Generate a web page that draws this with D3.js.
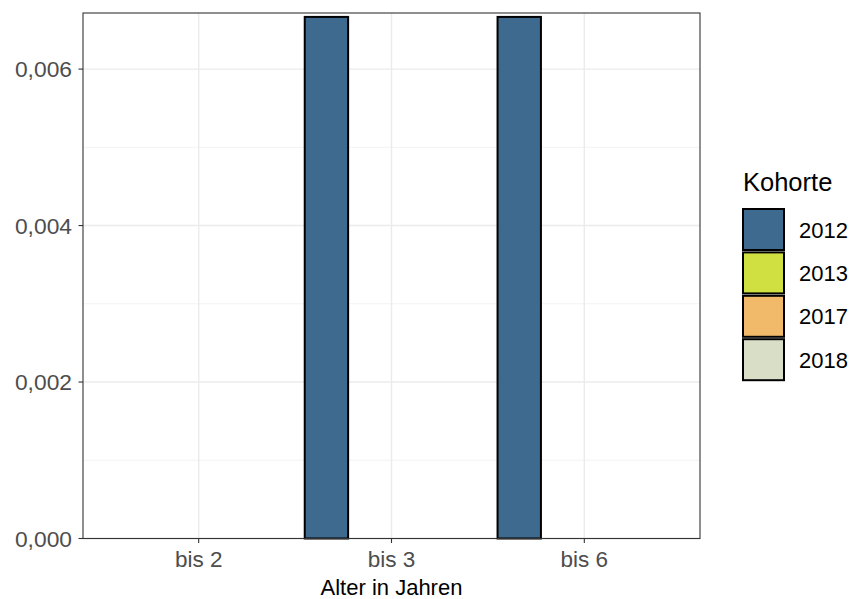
<!DOCTYPE html>
<html><head><meta charset="utf-8">
<script src="https://cdn.jsdelivr.net/npm/d3@7"></script>
<style>body{margin:0;background:#fff}svg{display:block}text{font-family:"Liberation Sans",Arial,Helvetica,sans-serif}</style>
</head><body>
<svg id="c" width="853" height="599"></svg>
<script>
const categories = ["bis 2", "bis 3", "bis 6"];
const cohorts = ["2012", "2013", "2017", "2018"];
const colors = ["#3f6a8f", "#d0e040", "#f1ba6b", "#d9dfc7"];
const values = {
  "2012": [0, 0.006667, 0.006667],
  "2013": [0, 0, 0],
  "2017": [0, 0, 0],
  "2018": [0, 0, 0]
};
const yTicks = [0, 0.002, 0.004, 0.006];
const yMinor = [0.001, 0.003, 0.005];

const svg = d3.select("#c");
const L = 83, R = 700, T = 13, B = 538.5;
const n = categories.length;
const x = d3.scaleLinear().domain([0.4, n + 0.6]).range([L, R]);
const yMax = d3.max(cohorts.flatMap(c => values[c]));
const y = d3.scaleLinear().domain([0, yMax * 1.0075]).range([B, T]);
const fmt = v => d3.format(".3f")(v).replace(".", ",");

// grid
const g = svg.append("g");
g.selectAll(".ymin").data(yMinor).join("line")
  .attr("x1", L).attr("x2", R).attr("y1", d => y(d)).attr("y2", d => y(d))
  .attr("stroke", "#f3f3f3").attr("stroke-width", 1);
g.selectAll(".ymaj").data(yTicks).join("line")
  .attr("x1", L).attr("x2", R).attr("y1", d => y(d)).attr("y2", d => y(d))
  .attr("stroke", "#ebebeb").attr("stroke-width", 1.4);
g.selectAll(".xmaj").data(categories).join("line")
  .attr("x1", (d, i) => x(i + 1)).attr("x2", (d, i) => x(i + 1)).attr("y1", T).attr("y2", B)
  .attr("stroke", "#ebebeb").attr("stroke-width", 1.4);

// bars
const unit = x(1) - x(0);
const bw = 0.9 / cohorts.length;
cohorts.forEach((c, j) => {
  svg.append("g").selectAll("rect").data(values[c]).join("rect")
    .attr("x", (d, i) => x(i + 1 - 0.45 + j * bw))
    .attr("width", bw * unit)
    .attr("y", d => y(d))
    .attr("height", d => y(0) - y(d))
    .attr("fill", colors[j])
    .attr("stroke", "#000").attr("stroke-width", 2);
});

// border
svg.append("rect").attr("x", L).attr("y", T).attr("width", R - L).attr("height", B - T)
  .attr("fill", "none").attr("stroke", "#333").attr("stroke-width", 1.1);

// y axis
const ya = svg.append("g");
ya.selectAll("line").data(yTicks).join("line")
  .attr("x1", L - 4.5).attr("x2", L).attr("y1", d => y(d)).attr("y2", d => y(d))
  .attr("stroke", "#333").attr("stroke-width", 1.1);
ya.selectAll("text").data(yTicks).join("text")
  .attr("x", L - 11).attr("y", d => y(d)).attr("dy", "0.36em")
  .attr("text-anchor", "end").attr("fill", "#4d4d4d").attr("font-size", 22.8)
  .text(fmt);

// x axis
const xa = svg.append("g");
xa.selectAll("line").data(categories).join("line")
  .attr("x1", (d, i) => x(i + 1)).attr("x2", (d, i) => x(i + 1)).attr("y1", B).attr("y2", B + 4.5)
  .attr("stroke", "#333").attr("stroke-width", 1.1);
xa.selectAll("text").data(categories).join("text")
  .attr("x", (d, i) => x(i + 1)).attr("y", 567)
  .attr("text-anchor", "middle").attr("fill", "#4d4d4d").attr("font-size", 22.5)
  .text(d => d);
svg.append("text").attr("x", (L + R) / 2).attr("y", 595).attr("text-anchor", "middle")
  .attr("fill", "#000").attr("font-size", 22).text("Alter in Jahren");

// legend
const lg = svg.append("g");
lg.append("text").attr("x", 743).attr("y", 191).attr("font-size", 25.5).attr("fill", "#000").text("Kohorte");
const ks = 43.4;
cohorts.forEach((c, j) => {
  const yy = 208 + j * ks;
  lg.append("rect").attr("x", 743).attr("y", yy + 1).attr("width", 41).attr("height", ks - 2.4)
    .attr("fill", colors[j]).attr("stroke", "#000").attr("stroke-width", 2);
  lg.append("text").attr("x", 799).attr("y", yy + ks / 2).attr("dy", "0.36em")
    .attr("font-size", 22).attr("fill", "#000").text(c);
});
</script>
</body></html>
